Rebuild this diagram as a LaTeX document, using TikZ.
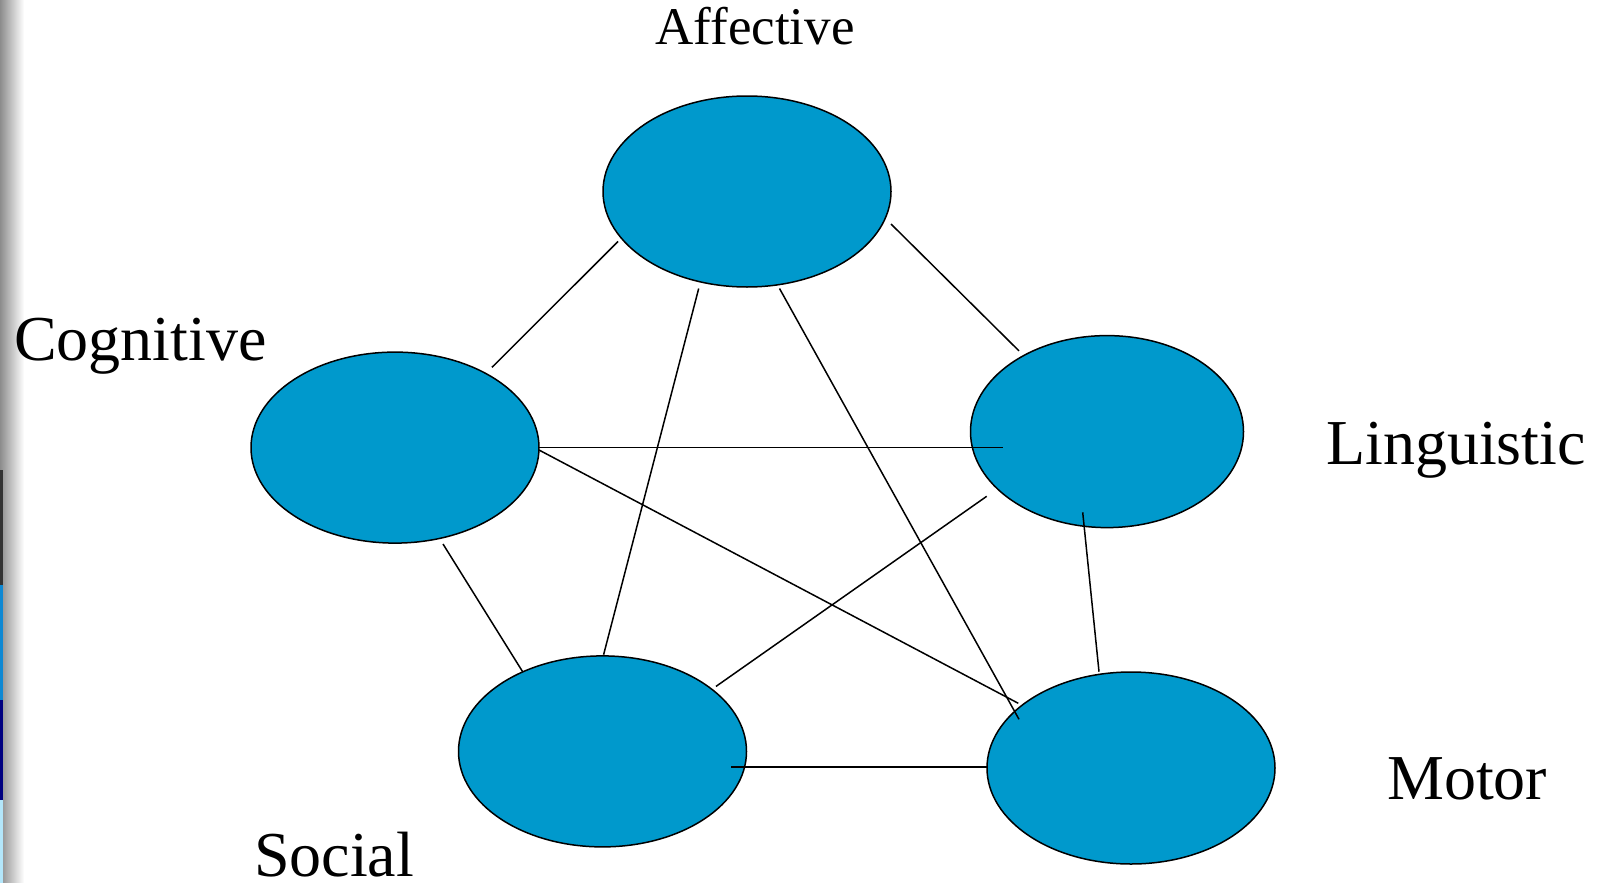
\documentclass[tikz,border=0pt]{standalone}
\usepackage{fontspec}
\setmainfont{Liberation Serif}
\usetikzlibrary{shapes.geometric}
\definecolor{blobblue}{RGB}{0,153,204}
\tikzset{
  blob/.style={ellipse, draw=black, line width=1.5pt, fill=blobblue, inner sep=0pt},
  link/.style={draw=black, line width=1.5pt},
  lbl/.style={inner sep=0pt, anchor=base west, font=\fontsize{64}{70}\selectfont},
}
\begin{document}
\begin{tikzpicture}[x=1pt, y=-1pt]
\useasboundingbox (0,0) rectangle (1604,883);
\fill[white] (0,0) rectangle (1604,883);
\shade[left color=black!45, right color=white] (0,0) rectangle (24,883);
\fill[black!80] (0,470) rectangle (3,585);
\fill[cyan!70!blue] (0,585) rectangle (3,700);
\fill[blue!50!black] (0,700) rectangle (3,800);
\fill[cyan!30] (0,800) rectangle (3,883);
% ellipses
\node[blob, minimum width=288pt, minimum height=191pt] (aff) at (747,191.5) {};
\node[blob, minimum width=288pt, minimum height=191pt] (cog) at (395,447.6) {};
\node[blob, minimum width=273pt, minimum height=192pt] (lin) at (1107,431.6) {};
\node[blob, minimum width=288pt, minimum height=192pt] (mot) at (1131,768) {};
\node[blob, minimum width=288pt, minimum height=191pt] (soc) at (602.5,751.4) {};
% connectors
\draw[link] ([shift={(-129,50)}]aff.center) -- ([shift={(97,-80.3)}]cog.center);
\draw[link] ([shift={(144,32.5)}]aff.center) -- ([shift={(-88,-80.7)}]lin.center);
\draw[link] ([shift={(-48.3,97)}]aff.center) -- ([shift={(1.1,-96.7)}]soc.center);
\draw[link] ([shift={(32.5,97)}]aff.center) -- ([shift={(-112,-48.7)}]mot.center);
\draw[link] ([shift={(144,0)}]cog.center) -- ([shift={(-104.3,16)}]lin.center);
\draw[link] ([shift={(144,2.4)}]cog.center) -- ([shift={(-112.7,-64.7)}]mot.center);
\draw[link] ([shift={(48,96.4)}]cog.center) -- ([shift={(-79.7,-79.4)}]soc.center);
\draw[link] ([shift={(-120.3,64.7)}]lin.center) -- ([shift={(113.5,-65)}]soc.center);
\draw[link] ([shift={(-24.3,80.7)}]lin.center) -- ([shift={(-32,-96.3)}]mot.center);
\draw[link] ([shift={(128.9,15.6)}]soc.center) -- ([shift={(-144,-1)}]mot.center);
% labels
\node[inner sep=0pt, anchor=base, font=\fontsize{53}{58}\selectfont] (taff) at (755,45) {Affective};
\node[lbl] (tcog) at (14,360) {Cognitive};
\node[lbl] (tlin) at (1326,464) {Linguistic};
\node[lbl] (tmot) at (1387,799.5) {Motor};
\node[lbl] (tsoc) at (254,876.7) {Social};
\end{tikzpicture}
\end{document}
